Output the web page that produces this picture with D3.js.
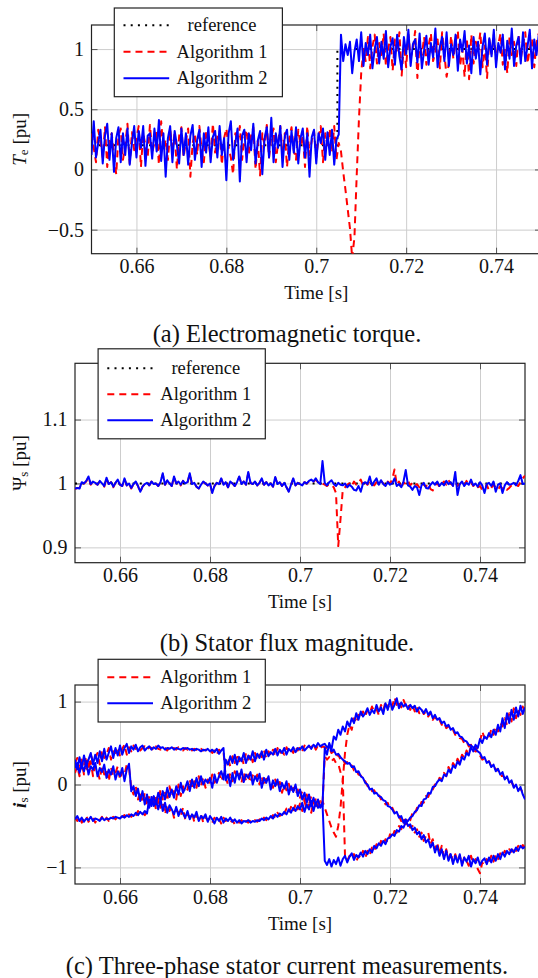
<!DOCTYPE html>
<html lang="en">
<head>
<meta charset="UTF-8">
<title>Torque, stator flux and stator currents</title>
<script src="https://d3js.org/d3.v7.min.js"></script>
<style>
  body { margin: 0; background: #fff; }
  svg { display: block; }
  .grid line { stroke: #cdcdcd; stroke-width: 1; }
  .tickmarks line { stroke: #555; stroke-width: 1; }
  .frame { fill: none; stroke: #222; stroke-width: 1.2; }
  .legend rect { fill: #fff; stroke: #222; stroke-width: 1.2; }
</style>
</head>
<body>
<svg id="fig" width="538" height="978"></svg>
<script>
// all logged signals share one time grid: 0.65 s .. 0.75 s, every 0.5 ms
const t0 = 0.65, dt = 0.0005;
const tRange = [0.65, 0.75];
const xTicks = [0.66, 0.68, 0.7, 0.72, 0.74];

// (a) electromagnetic torque [pu]
const torqueTicks = [-0.5, 0, 0.5, 1];
const torqueRefT = [0.65, 0.7047, 0.7047, 0.75];
const torqueRef = [0.2, 0.2, 1, 1];
const torqueAlg1 = [
  0.30, 0.18, 0.06, 0.33, 0.22, 0.10, 0.35, 0.02, 0.24, 0.30,
  0.12, -0.04, 0.28, 0.34, 0.08, 0.20, 0.38, 0.05, 0.31, 0.16,
  0.26, 0.36, 0.02, 0.30, 0.20, 0.10, 0.37, 0.14, 0.22, 0.33,
  0.04, 0.40, 0.16, 0.25, 0.08, 0.33, 0.18, 0.30, 0.00, 0.28,
  0.35, 0.10, 0.24, 0.34, -0.06, 0.22, 0.30, 0.12, 0.36, 0.16,
  0.06, 0.32, 0.24, 0.10, 0.38, 0.14, 0.28, 0.32, 0.04, 0.26,
  0.34, 0.18, 0.10, -0.04, 0.30, 0.22, 0.36, 0.08, 0.26, 0.33,
  0.12, 0.28, 0.35, 0.00, 0.24, -0.05, 0.30, 0.20, 0.37, 0.10,
  0.27, 0.34, 0.06, 0.22, 0.36, 0.14, 0.30, 0.02, 0.26, 0.35,
  0.16, 0.08, 0.33, 0.20, 0.28, 0.02, 0.36, 0.12, 0.24, 0.32,
  0.10, 0.26, 0.36, 0.06, 0.30, 0.20, 0.34, 0.14, 0.36, 0.08,
  0.22, 0.15, -0.02, -0.17, -0.33, -0.49, -0.74, -0.56, -0.05, 0.42,
  0.80, 1.00, 0.90, 1.10, 0.84, 1.02, 1.12, 0.88, 1.05, 0.95,
  1.13, 0.86, 1.00, 1.10, 0.82, 1.08, 0.97, 1.14, 0.78, 1.04,
  0.85, 1.12, 0.93, 1.00, 1.15, 0.76, 1.06, 0.95, 1.10, 0.87,
  1.03, 1.13, 0.90, 0.98, 1.08, 0.84, 1.14, 0.96, 0.77, 0.88,
  1.11, 0.92, 1.05, 1.15, 0.86, 1.00, 0.77, 1.09, 0.75, 1.12,
  0.88, 1.06, 0.98, 1.14, 0.85, 1.03, 0.76, 1.08, 0.96, 1.12,
  0.90, 1.04, 1.13, 0.87, 1.00, 0.80, 1.10, 0.95, 1.06, 0.86,
  1.12, 0.92, 1.03, 1.14, 0.88, 1.00, 1.09, 0.85, 1.05, 1.13, 0.94
];
const torqueAlg2 = [
  0.12, 0.40, 0.10, 0.22, 0.33, 0.05, 0.28, 0.38, 0.08, 0.30,
  -0.02, 0.26, 0.35, 0.06, 0.30, 0.12, 0.34, 0.04, 0.22, 0.36,
  0.10, 0.32, 0.18, 0.36, 0.03, 0.28, 0.30, 0.09, 0.34, 0.15,
  0.41, 0.07, 0.30, -0.06, 0.26, 0.36, 0.06, 0.32, 0.20, 0.05,
  0.34, 0.12, 0.30, 0.04, 0.28, 0.37, 0.08, 0.24, 0.33, 0.02,
  0.30, 0.14, 0.35, 0.06, 0.27, 0.32, 0.10, 0.36, 0.12, 0.26,
  -0.09, 0.30, 0.40, 0.08, 0.22, 0.34, -0.10, 0.28, 0.33, 0.06,
  0.30, 0.16, 0.38, 0.05, 0.24, 0.32, -0.04, 0.26, 0.35, 0.10,
  0.43, 0.06, 0.30, 0.18, 0.36, 0.02, 0.28, 0.33, 0.08, 0.32,
  0.14, 0.35, 0.05, 0.26, 0.34, 0.10, 0.30, -0.06, 0.27, 0.33,
  0.05, 0.30, 0.22, 0.34, 0.08, 0.31, 0.12, 0.33, 0.04, 0.25,
  0.29, 1.12, 0.90, 1.04, 0.95, 1.06, 0.80, 0.98, 1.08, 0.90,
  1.14, 0.86, 1.05, 0.95, 1.12, 0.84, 1.00, 1.10, 0.88, 1.06,
  0.92, 1.15, 0.85, 1.02, 1.09, 0.87, 1.12, 0.94, 0.83, 1.10,
  0.96, 1.16, 0.86, 1.04, 1.08, 0.89, 1.13, 0.84, 0.99, 1.11,
  0.87, 1.05, 0.93, 1.17, 0.85, 1.02, 1.10, 0.90, 1.14, 0.86,
  1.04, 0.95, 1.12, 0.82, 1.08, 0.98, 1.15, 0.88, 1.03, 0.80,
  1.10, 0.92, 1.06, 0.79, 1.02, 1.13, 0.87, 1.09, 0.94, 1.16,
  0.85, 1.05, 0.97, 1.12, 0.83, 1.07, 0.92, 1.17, 0.86, 1.03,
  1.10, 0.88, 1.14, 0.90, 1.02, 1.16, 0.84, 1.08, 0.95, 1.12, 0.80
];

// (b) stator flux magnitude [pu]
const fluxTicks = [0.9, 1, 1.1];
const fluxRefT = [0.65, 0.75];
const fluxRef = [1, 1];
const fluxAlg1 = [
  0.991, 0.993, 0.993, 1.001, 1.000, 1.003, 1.010, 0.998, 1.003, 1.000,
  0.998, 1.003, 1.000, 0.995, 1.008, 0.999, 1.002, 0.994, 1.001, 1.005,
  0.998, 0.996, 1.007, 0.997, 1.000, 0.992, 0.999, 1.002, 0.996, 0.986,
  0.995, 0.999, 1.000, 0.997, 1.003, 0.998, 1.000, 0.996, 1.002, 1.014,
  0.998, 1.004, 1.000, 0.996, 1.010, 1.000, 1.003, 0.997, 1.004, 1.000,
  1.001, 1.015, 0.999, 1.001, 0.995, 0.992, 0.998, 1.002, 1.000, 0.997,
  1.000, 0.986, 0.996, 1.001, 0.999, 1.007, 0.998, 1.002, 0.994, 1.002,
  1.000, 0.996, 1.002, 1.010, 0.999, 1.003, 0.998, 1.016, 1.001, 0.999,
  1.002, 0.997, 1.001, 1.007, 0.998, 1.002, 0.997, 1.000, 0.995, 1.009,
  0.999, 1.002, 0.996, 1.001, 0.994, 0.988, 0.998, 1.007, 0.997, 1.001,
  0.999, 0.997, 1.002, 1.000, 1.003, 1.005, 1.003, 1.006, 1.002, 0.999,
  1.000, 0.998, 0.996, 0.999, 0.997, 0.994, 0.985, 0.902, 0.944, 0.990,
  0.994, 0.998, 1.000, 0.996, 1.003, 0.998, 1.001, 1.006, 0.997, 1.002,
  0.998, 1.004, 1.000, 0.997, 1.002, 0.999, 1.004, 1.000, 0.996, 1.003,
  1.000, 1.006, 1.022, 0.998, 1.003, 0.992, 1.002, 0.999, 1.004, 0.997,
  1.001, 0.996, 0.999, 0.994, 1.001, 0.998, 0.995, 1.000, 0.991, 0.989,
  0.996, 1.001, 0.994, 0.999, 1.003, 0.998, 1.005, 1.000, 0.997, 1.002,
  0.996, 0.999, 1.001, 0.997, 1.004, 0.998, 1.002, 0.996, 0.999, 0.994,
  0.996, 0.990, 0.992, 0.998, 0.989, 0.993, 0.998, 0.994, 0.990, 0.996,
  0.992, 0.994, 0.990, 0.993, 0.997, 0.995, 0.998, 0.996, 1.002, 1.008, 1.012
];
const fluxAlg2 = [
  0.992, 0.993, 0.992, 1.002, 1.000, 1.004, 1.011, 0.999, 1.003, 1.001,
  0.998, 1.004, 1.000, 0.996, 1.009, 0.999, 1.002, 0.995, 1.001, 1.006,
  0.998, 0.996, 1.008, 0.997, 1.000, 0.993, 0.999, 1.003, 0.996, 0.987,
  0.995, 0.999, 1.001, 0.997, 1.003, 0.999, 1.000, 0.996, 1.002, 1.016,
  0.998, 1.005, 1.000, 0.996, 1.011, 1.000, 1.003, 0.998, 1.004, 1.000,
  1.002, 1.016, 0.999, 1.001, 0.995, 0.992, 0.998, 1.003, 1.000, 0.997,
  1.000, 0.985, 0.996, 1.001, 0.999, 1.008, 0.998, 1.002, 0.994, 1.003,
  1.000, 0.996, 1.002, 1.011, 0.999, 1.003, 0.998, 1.018, 1.001, 0.999,
  1.003, 0.997, 1.001, 1.008, 0.998, 1.002, 0.997, 1.000, 0.995, 1.010,
  0.999, 1.002, 0.996, 1.001, 0.994, 0.987, 0.998, 1.008, 0.997, 1.001,
  0.999, 0.997, 1.002, 1.000, 1.004, 1.006, 1.003, 1.008, 1.002, 0.999,
  1.035, 1.001, 0.997, 1.002, 1.005, 0.999, 0.996, 1.001, 0.998, 0.997,
  1.000, 0.994, 0.998, 0.995, 0.990, 0.989, 0.996, 0.987, 1.000, 1.002,
  0.999, 1.011, 0.997, 1.003, 1.008, 0.998, 1.005, 0.999, 0.996, 1.002,
  0.998, 1.000, 1.008, 0.996, 0.999, 0.994, 1.003, 1.021, 0.997, 0.995,
  0.990, 0.996, 0.994, 0.982, 0.997, 1.001, 0.993, 0.992, 0.998, 1.002,
  0.998, 1.003, 0.996, 1.001, 0.997, 1.004, 0.999, 1.002, 0.996, 1.018,
  0.982, 0.999, 1.003, 0.996, 1.001, 0.998, 1.006, 0.997, 1.000, 0.995,
  1.002, 0.997, 0.985, 0.999, 1.001, 0.996, 1.003, 0.987, 0.998, 1.000,
  0.985, 0.997, 1.002, 0.998, 0.999, 1.001, 0.997, 1.004, 1.013, 0.999, 1.000
];

// (c) three-phase stator currents [pu], phases a, b, c
const currentTicks = [-1, 0, 1];
const curAlg1A = [
  0.26, 0.32, 0.16, 0.30, 0.24, 0.34, 0.18, 0.36, 0.28, 0.32,
  0.38, 0.24, 0.42, 0.32, 0.36, 0.44, 0.30, 0.40, 0.38, 0.45,
  0.34, 0.43, 0.48, 0.36, 0.45, 0.40, 0.47, 0.43, 0.46, 0.41,
  0.44, 0.46, 0.42, 0.45, 0.44, 0.41, 0.46, 0.43, 0.42, 0.45,
  0.44, 0.41, 0.45, 0.43, 0.44, 0.42, 0.45, 0.43, 0.41, 0.44,
  0.42, 0.44, 0.41, 0.43, 0.42, 0.40, 0.43, 0.41, 0.42, 0.40,
  0.42, 0.38, 0.41, 0.36, 0.42, 0.39, 0.40, 0.08, 0.00, 0.14,
  0.04, 0.16, 0.08, 0.13, 0.02, 0.15, 0.05, 0.12, 0.02, 0.11,
  0.06, 0.12, 0.00, 0.10, -0.02, 0.07, 0.04, 0.02, -0.04, 0.06,
  -0.04, 0.03, -0.10, 0.00, -0.07, 0.01, -0.10, -0.04, -0.12, -0.06,
  -0.16, -0.08, -0.20, -0.12, -0.24, -0.14, -0.22, -0.18, -0.26, -0.20,
  -0.24, 0.34, 0.30, 0.33, 0.28, 0.31, 0.26, 0.25, 0.15, 0.08,
  -0.86, -0.92, -0.86, -0.90, -0.84, -0.93, -0.86, -0.88, -0.80, -0.89,
  -0.80, -0.85, -0.76, -0.80, -0.72, -0.76, -0.68, -0.73, -0.66, -0.70,
  -0.60, -0.64, -0.56, -0.58, -0.50, -0.54, -0.46, -0.47, -0.40, -0.43,
  -0.34, -0.36, -0.28, -0.29, -0.21, -0.22, -0.14, -0.15, -0.07, -0.06,
  0.00, 0.01, 0.08, 0.06, 0.14, 0.10, 0.21, 0.16, 0.26, 0.22,
  0.31, 0.26, 0.36, 0.32, 0.41, 0.36, 0.47, 0.42, 0.40, 0.46,
  0.52, 0.64, 0.56, 0.60, 0.58, 0.66, 0.60, 0.70, 0.64, 0.74,
  0.70, 0.80, 0.72, 0.86, 0.76, 0.92, 0.80, 0.90, 0.84, 0.94, 0.88
];
const curAlg1B = [
  0.14, 0.22, 0.10, 0.26, 0.12, 0.20, 0.16, 0.28, 0.10, 0.22,
  0.16, 0.06, 0.22, 0.12, 0.18, 0.04, 0.20, 0.10, 0.14, 0.22,
  0.06, 0.16, 0.12, 0.24, 0.20, -0.04, -0.12, -0.02, -0.18, -0.08,
  -0.22, -0.10, -0.26, -0.14, -0.24, -0.18, -0.30, -0.16, -0.28, -0.22,
  -0.36, -0.24, -0.32, -0.28, -0.40, -0.30, -0.34, -0.38, -0.28, -0.42,
  -0.36, -0.40, -0.34, -0.45, -0.38, -0.42, -0.36, -0.46, -0.40, -0.43,
  -0.41, -0.46, -0.40, -0.45, -0.42, -0.47, -0.40, -0.44, -0.42, -0.46,
  -0.43, -0.48, -0.44, -0.46, -0.43, -0.47, -0.44, -0.46, -0.43, -0.45,
  -0.43, -0.45, -0.42, -0.44, -0.40, -0.43, -0.39, -0.41, -0.37, -0.40,
  -0.34, -0.38, -0.32, -0.35, -0.29, -0.34, -0.27, -0.33, -0.24, -0.30,
  -0.23, -0.32, -0.20, -0.31, -0.24, -0.34, -0.20, -0.30, -0.22, -0.27,
  -0.20, -0.28, -0.36, -0.44, -0.52, -0.58, -0.63, -0.50, -0.28, 0.05,
  0.38, 0.60, 0.72, 0.66, 0.80, 0.74, 0.84, 0.80, 0.88, 0.82,
  0.90, 0.86, 0.94, 0.88, 0.91, 0.84, 0.96, 0.89, 1.00, 0.92,
  0.98, 0.94, 1.05, 0.96, 1.00, 0.93, 1.02, 0.95, 0.98, 0.90,
  0.96, 0.88, 0.94, 0.86, 0.91, 0.85, 0.88, 0.82, 0.86, 0.78,
  0.82, 0.76, 0.78, 0.72, 0.75, 0.68, 0.70, 0.66, 0.66, 0.60,
  0.60, 0.56, 0.55, 0.50, 0.52, 0.46, 0.48, 0.42, 0.44, 0.36,
  0.35, 0.30, 0.31, 0.27, 0.28, 0.22, 0.23, 0.18, 0.18, 0.10,
  0.11, 0.08, 0.06, 0.04, 0.03, -0.02, -0.01, -0.06, -0.05, -0.10, -0.16
];
const curAlg1C = [
  -0.40, -0.44, -0.39, -0.46, -0.42, -0.38, -0.45, -0.41, -0.40, -0.46,
  -0.41, -0.43, -0.39, -0.45, -0.40, -0.44, -0.41, -0.39, -0.42, -0.38,
  -0.40, -0.39, -0.37, -0.41, -0.36, -0.39, -0.35, -0.38, -0.32, -0.36,
  -0.34, -0.37, -0.33, -0.22, -0.14, -0.26, -0.12, -0.22, -0.06, -0.18,
  -0.10, -0.20, -0.02, -0.14, -0.08, -0.18, 0.00, -0.14, -0.02, -0.10,
  -0.06, 0.06, -0.06, 0.04, -0.04, 0.10, -0.02, 0.08, -0.04, 0.06,
  0.00, 0.12, 0.02, 0.08, 0.14, 0.04, 0.12, 0.26, 0.32, 0.22,
  0.34, 0.26, 0.37, 0.28, 0.34, 0.24, 0.38, 0.30, 0.36, 0.27,
  0.38, 0.30, 0.36, 0.33, 0.41, 0.32, 0.40, 0.35, 0.42, 0.34,
  0.44, 0.37, 0.40, 0.36, 0.45, 0.39, 0.42, 0.38, 0.46, 0.41,
  0.45, 0.40, 0.47, 0.43, 0.46, 0.44, 0.49, 0.42, 0.47, 0.44,
  0.46, 0.45, 0.43, 0.44, 0.38, 0.40, 0.34, 0.36, 0.30, 0.31,
  0.25, 0.27, 0.22, 0.23, 0.17, 0.18, 0.12, 0.11, 0.06, 0.04,
  -0.02, -0.03, -0.08, -0.07, -0.13, -0.12, -0.18, -0.17, -0.24, -0.22,
  -0.30, -0.28, -0.34, -0.36, -0.38, -0.44, -0.40, -0.48, -0.45, -0.52,
  -0.50, -0.58, -0.54, -0.63, -0.58, -0.68, -0.62, -0.58, -0.72, -0.66,
  -0.78, -0.70, -0.84, -0.74, -0.88, -0.78, -0.90, -0.82, -0.94, -0.84,
  -0.92, -0.86, -0.96, -0.88, -0.92, -0.98, -0.86, -0.95, -0.90, -1.02,
  -1.07, -0.94, -0.98, -0.90, -0.96, -0.86, -0.93, -0.85, -0.90, -0.83,
  -0.86, -0.80, -0.84, -0.78, -0.81, -0.76, -0.80, -0.74, -0.78, -0.73, -0.76
];
const curAlg2A = [
  0.30, 0.18, 0.33, 0.20, 0.35, 0.22, 0.30, 0.38, 0.24, 0.36,
  0.26, 0.40, 0.28, 0.43, 0.30, 0.38, 0.46, 0.32, 0.44, 0.35,
  0.47, 0.36, 0.44, 0.49, 0.38, 0.46, 0.42, 0.48, 0.40, 0.45,
  0.47, 0.41, 0.44, 0.46, 0.42, 0.45, 0.43, 0.47, 0.44, 0.45,
  0.42, 0.44, 0.43, 0.45, 0.42, 0.44, 0.43, 0.42, 0.44, 0.43,
  0.44, 0.42, 0.43, 0.41, 0.43, 0.42, 0.40, 0.42, 0.41, 0.43,
  0.40, 0.42, 0.39, 0.43, 0.37, 0.41, 0.44, 0.05, 0.12, -0.02,
  0.14, 0.02, 0.16, 0.06, 0.18, 0.03, 0.12, 0.08, 0.15, 0.00,
  0.10, 0.04, 0.13, -0.04, 0.08, 0.02, 0.10, -0.06, 0.05, -0.02,
  0.06, -0.08, 0.02, -0.05, 0.04, -0.12, -0.02, -0.09, 0.00, -0.14,
  -0.06, -0.18, -0.10, -0.22, -0.12, -0.26, -0.16, -0.24, -0.18, -0.28,
  -0.22, -0.92, -0.97, -0.90, -0.99, -0.91, -0.96, -0.88, -0.98, -0.90,
  -0.86, -0.94, -0.87, -0.83, -0.91, -0.85, -0.88, -0.82, -0.87, -0.80,
  -0.84, -0.78, -0.82, -0.74, -0.77, -0.71, -0.74, -0.68, -0.72, -0.65,
  -0.64, -0.60, -0.62, -0.55, -0.57, -0.50, -0.52, -0.45, -0.44, -0.40,
  -0.38, -0.33, -0.31, -0.25, -0.26, -0.18, -0.17, -0.10, -0.11, -0.03,
  -0.02, 0.03, 0.06, 0.04, 0.12, 0.10, 0.18, 0.14, 0.23, 0.20,
  0.28, 0.24, 0.33, 0.30, 0.38, 0.35, 0.45, 0.40, 0.48, 0.44,
  0.55, 0.50, 0.58, 0.55, 0.62, 0.57, 0.66, 0.60, 0.72, 0.64,
  0.80, 0.68, 0.86, 0.74, 0.90, 0.78, 0.93, 0.82, 0.95, 0.85, 0.93
];
const curAlg2B = [
  0.20, 0.26, 0.14, 0.24, 0.16, 0.28, 0.12, 0.22, 0.18, 0.26,
  0.10, 0.20, 0.15, 0.24, 0.08, 0.18, 0.12, 0.22, 0.06, 0.16,
  0.10, 0.20, 0.04, 0.18, 0.25, -0.08, -0.02, -0.14, -0.05, -0.20,
  -0.08, -0.24, -0.12, -0.28, -0.15, -0.26, -0.20, -0.30, -0.18, -0.32,
  -0.22, -0.34, -0.25, -0.30, -0.36, -0.27, -0.38, -0.30, -0.35, -0.40,
  -0.32, -0.42, -0.36, -0.40, -0.33, -0.44, -0.38, -0.41, -0.36, -0.45,
  -0.38, -0.42, -0.47, -0.40, -0.44, -0.39, -0.46, -0.41, -0.44, -0.40,
  -0.45, -0.42, -0.46, -0.43, -0.47, -0.44, -0.45, -0.43, -0.46, -0.44,
  -0.45, -0.43, -0.44, -0.41, -0.43, -0.40, -0.42, -0.38, -0.41, -0.36,
  -0.39, -0.35, -0.37, -0.33, -0.36, -0.30, -0.34, -0.28, -0.32, -0.26,
  -0.30, -0.22, -0.33, -0.24, -0.30, -0.20, -0.32, -0.22, -0.28, -0.25,
  -0.26, 0.44, 0.36, 0.50, 0.42, 0.58, 0.54, 0.66, 0.60, 0.70,
  0.64, 0.76, 0.70, 0.80, 0.74, 0.86, 0.78, 0.88, 0.82, 0.86,
  0.92, 0.84, 0.90, 0.86, 0.96, 0.88, 0.93, 0.85, 0.98, 0.90,
  1.02, 0.90, 0.96, 1.04, 0.92, 0.99, 0.94, 0.97, 0.91, 0.96,
  0.92, 0.95, 0.88, 0.93, 0.90, 0.86, 0.91, 0.84, 0.88, 0.80,
  0.84, 0.78, 0.80, 0.74, 0.76, 0.70, 0.72, 0.66, 0.68, 0.62,
  0.63, 0.58, 0.57, 0.53, 0.52, 0.48, 0.47, 0.45, 0.43, 0.40,
  0.38, 0.32, 0.33, 0.26, 0.28, 0.21, 0.24, 0.16, 0.19, 0.12,
  0.15, 0.06, 0.10, 0.02, 0.05, -0.04, 0.00, -0.08, -0.03, -0.12, -0.18
];
const curAlg2C = [
  -0.42, -0.38, -0.44, -0.40, -0.45, -0.41, -0.43, -0.39, -0.44, -0.41,
  -0.42, -0.44, -0.40, -0.43, -0.41, -0.42, -0.40, -0.41, -0.39, -0.40,
  -0.41, -0.38, -0.40, -0.37, -0.39, -0.36, -0.38, -0.34, -0.37, -0.33,
  -0.36, -0.32, -0.35, -0.18, -0.26, -0.14, -0.24, -0.10, -0.20, -0.08,
  -0.18, -0.04, -0.15, -0.06, -0.16, -0.02, -0.12, 0.02, -0.10, -0.04,
  0.04, -0.08, 0.06, -0.04, 0.08, -0.02, 0.10, 0.00, 0.06, 0.02,
  0.08, -0.04, 0.12, 0.02, 0.10, 0.16, 0.06, 0.30, 0.24, 0.34,
  0.26, 0.36, 0.24, 0.33, 0.28, 0.38, 0.26, 0.35, 0.30, 0.40,
  0.28, 0.37, 0.32, 0.40, 0.30, 0.42, 0.34, 0.39, 0.36, 0.43,
  0.35, 0.42, 0.38, 0.44, 0.36, 0.43, 0.40, 0.45, 0.39, 0.44,
  0.42, 0.46, 0.41, 0.44, 0.47, 0.43, 0.48, 0.45, 0.50, 0.46,
  0.48, 0.49, 0.45, 0.47, 0.40, 0.42, 0.36, 0.37, 0.33, 0.30,
  0.28, 0.25, 0.26, 0.21, 0.22, 0.15, 0.16, 0.10, 0.08, 0.02,
  0.00, -0.06, -0.05, -0.11, -0.10, -0.14, -0.15, -0.19, -0.20, -0.26,
  -0.27, -0.30, -0.35, -0.33, -0.40, -0.38, -0.46, -0.42, -0.50, -0.48,
  -0.55, -0.52, -0.60, -0.57, -0.66, -0.61, -0.70, -0.66, -0.76, -0.70,
  -0.82, -0.74, -0.86, -0.78, -0.90, -0.80, -0.92, -0.84, -0.96, -0.86,
  -0.94, -0.84, -0.98, -0.88, -0.93, -0.86, -0.99, -0.90, -0.95, -0.88,
  -0.97, -0.92, -0.89, -0.96, -0.88, -0.94, -0.86, -0.92, -0.84, -0.90,
  -0.82, -0.87, -0.80, -0.84, -0.78, -0.82, -0.76, -0.80, -0.74, -0.77, -0.75
];

const styles = {
  ref:  { stroke: "#000", width: 2, dash: "2,5.2", label: "reference" },
  alg1: { stroke: "#ff0000", width: 2, dash: "7,5", label: "Algorithm 1" },
  alg2: { stroke: "#0000ff", width: 2, dash: null, label: "Algorithm 2" }
};

const FONT = '"Liberation Serif", serif';
const svg = d3.select("#fig").style("font-family", FONT);
const fmt = d => (d < 0 ? "\u2212" : "") + Math.abs(d);

function textStyle(sel, size) {
  return sel.style("font-family", FONT).style("font-size", size + "px").style("fill", "#111");
}

function drawPanel(p) {
  const x = d3.scaleLinear().domain(tRange).range([p.left, p.right]);
  const y = d3.scaleLinear().domain(p.yDomain).range([p.bottom, p.top]);
  const w = p.right - p.left, h = p.bottom - p.top;
  const g = svg.append("g");

  // grid
  g.append("g").attr("class", "grid").attr("transform", `translate(0,${p.bottom})`)
    .call(d3.axisBottom(x).tickValues(xTicks).tickSize(-h).tickFormat(""))
    .call(a => a.select(".domain").remove());
  g.append("g").attr("class", "grid").attr("transform", `translate(${p.left},0)`)
    .call(d3.axisLeft(y).tickValues(p.yTicks).tickSize(-w).tickFormat(""))
    .call(a => a.select(".domain").remove());

  // inward ticks on all four sides
  const tk = 6;
  [[d3.axisBottom(x), `translate(0,${p.bottom})`, xTicks],
   [d3.axisTop(x), `translate(0,${p.top})`, xTicks],
   [d3.axisLeft(y), `translate(${p.left},0)`, p.yTicks],
   [d3.axisRight(y), `translate(${p.right},0)`, p.yTicks]].forEach(([ax, tr, tv]) => {
    g.append("g").attr("class", "tickmarks").attr("transform", tr)
      .call(ax.tickValues(tv).tickSize(-tk).tickFormat(""))
      .call(a => a.select(".domain").remove());
  });

  g.append("rect").attr("class", "frame")
    .attr("x", p.left).attr("y", p.top).attr("width", w).attr("height", h);

  // tick labels
  g.append("g").attr("transform", `translate(0,${p.bottom})`)
    .call(d3.axisBottom(x).tickValues(xTicks).tickSize(0).tickPadding(5.6).tickFormat(fmt))
    .call(a => a.select(".domain").remove())
    .call(a => textStyle(a.selectAll("text"), 20));
  g.append("g").attr("transform", `translate(${p.left},0)`)
    .call(d3.axisLeft(y).tickValues(p.yTicks).tickSize(0).tickPadding(7.5).tickFormat(fmt))
    .call(a => a.select(".domain").remove())
    .call(a => textStyle(a.selectAll("text"), 20));

  // series
  const clipId = "clip-" + p.name;
  svg.append("clipPath").attr("id", clipId).append("rect")
    .attr("x", p.left).attr("y", p.top).attr("width", w).attr("height", h);
  const plot = g.append("g").attr("clip-path", `url(#${clipId})`);
  const sampled = d3.line().x((d, i) => x(t0 + i * dt)).y(d => y(d));
  const stepped = d3.line().x(d => x(d[0])).y(d => y(d[1]));

  p.series.forEach(s => {
    const st = styles[s.kind];
    const path = plot.append("path")
      .attr("fill", "none")
      .attr("stroke", st.stroke)
      .attr("stroke-width", st.width)
      .attr("stroke-linejoin", "round")
      .attr("stroke-dasharray", st.dash);
    if (s.t) path.attr("d", stepped(d3.zip(s.t, s.v)));
    else path.attr("d", sampled(s.v));
  });

  // axis labels
  textStyle(svg.append("text"), 19)
    .attr("x", (p.left + p.right) / 2).attr("y", p.bottom + 39)
    .attr("text-anchor", "middle").attr("dominant-baseline", "central")
    .text("Time [s]");
  const yl = textStyle(svg.append("text"), 19)
    .attr("transform", `translate(19,${(p.top + p.bottom) / 2}) rotate(-90)`)
    .attr("text-anchor", "middle").attr("dominant-baseline", "central");
  p.yLabel(yl);

  // legend
  const L = p.legend;
  const lg = svg.append("g").attr("class", "legend");
  lg.append("rect").attr("x", L.x).attr("y", L.y).attr("width", L.w).attr("height", L.h);
  L.items.forEach((kind, k) => {
    const st = styles[kind];
    const cy = L.row0 + k * L.step;
    lg.append("line")
      .attr("x1", L.x + 9.2).attr("x2", L.x + 54.9).attr("y1", cy).attr("y2", cy)
      .attr("stroke", st.stroke).attr("stroke-width", st.width)
      .attr("stroke-dasharray", st.dash);
    textStyle(lg.append("text"), 18.5).attr("x", L.x + 107.7).attr("y", cy)
      .attr("text-anchor", "middle").attr("dominant-baseline", "central")
      .text(st.label);
  });

  textStyle(svg.append("text"), 24.5)
    .attr("x", 287).attr("y", p.captionY)
    .attr("text-anchor", "middle").attr("dominant-baseline", "central")
    .text(p.caption);
}

function subLabel(main, mainStyle, sub) {
  return t => {
    const m = t.append("tspan").text(main);
    if (mainStyle.italic) m.style("font-style", "italic");
    if (mainStyle.bold) m.style("font-weight", "bold");
    t.append("tspan").style("font-size", "13px").attr("dy", 4).text(sub);
    t.append("tspan").attr("dy", -4).text("\u00a0[pu]");
  };
}

drawPanel({
  name: "torque", left: 91.5, right: 541, top: 25, bottom: 253.7,
  yDomain: [-0.7, 1.2], yTicks: torqueTicks,
  series: [
    { kind: "ref", t: torqueRefT, v: torqueRef },
    { kind: "alg1", v: torqueAlg1 },
    { kind: "alg2", v: torqueAlg2 }
  ],
  yLabel: subLabel("T", { italic: true }, "e"),
  legend: { x: 114.3, y: 8, w: 168.1, h: 88.7, row0: 25.3, step: 26.5, items: ["ref", "alg1", "alg2"] },
  caption: "(a) Electromagnetic torque.", captionY: 333.3
});

drawPanel({
  name: "flux", left: 75, right: 525, top: 363.3, bottom: 562.7,
  yDomain: [0.876, 1.188], yTicks: fluxTicks,
  series: [
    { kind: "ref", t: fluxRefT, v: fluxRef },
    { kind: "alg1", v: fluxAlg1 },
    { kind: "alg2", v: fluxAlg2 }
  ],
  yLabel: subLabel("\u03a8", {}, "s"),
  legend: { x: 98.1, y: 348.8, w: 167.2, h: 90, row0: 368.3, step: 26, items: ["ref", "alg1", "alg2"] },
  caption: "(b) Stator flux magnitude.", captionY: 642.7
});

drawPanel({
  name: "current", left: 75, right: 525, top: 685, bottom: 884,
  yDomain: [-1.2, 1.2], yTicks: currentTicks,
  series: [
    { kind: "alg1", v: curAlg1A },
    { kind: "alg1", v: curAlg1B },
    { kind: "alg1", v: curAlg1C },
    { kind: "alg2", v: curAlg2A },
    { kind: "alg2", v: curAlg2B },
    { kind: "alg2", v: curAlg2C }
  ],
  yLabel: subLabel("i", { italic: true, bold: true }, "s"),
  legend: { x: 98.1, y: 659.3, w: 167.2, h: 62.7, row0: 677.3, step: 26, items: ["alg1", "alg2"] },
  caption: "(c) Three-phase stator current measurements.", captionY: 965
});
</script>
</body>
</html>
